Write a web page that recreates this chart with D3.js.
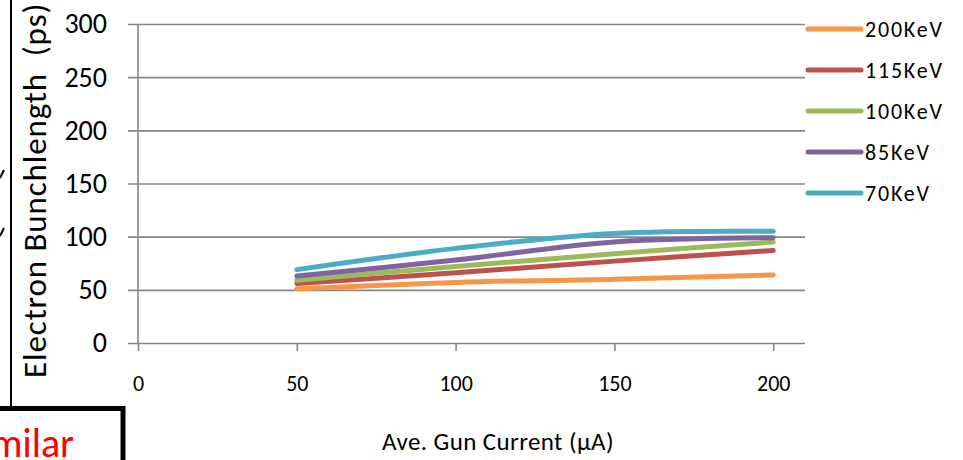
<!DOCTYPE html>
<html>
<head>
<meta charset="utf-8">
<script src="https://cdn.jsdelivr.net/npm/d3@7"></script>
<style>
    body { margin: 0; background: #fff; }
    svg { display: block; font-family: Carlito, Lato, "Open Sans", sans-serif; }
</style>
</head>
<body>
<svg width="963" height="460"></svg>
<script>
    // Values
    const currents = [50, 100, 150, 200];
    const seriesNames = ["200KeV", "115KeV", "100KeV", "85KeV", "70KeV"];
    const seriesColors = ["#F79646", "#C0504D", "#9BBB59", "#8064A2", "#4BACC6"];
    const kev200 = [51, 57, 60, 64];
    const kev115 = [56, 66, 77, 87];
    const kev100 = [59, 72, 84, 95];
    const kev85 = [63, 78, 95, 99];
    const kev70 = [69, 89, 103, 105];
    const xTicks = [0, 50, 100, 150, 200];
    const yTicks = [0, 50, 100, 150, 200, 250, 300];

    const seriesValues = [kev200, kev115, kev100, kev85, kev70];

    const svg = d3.select("svg");

    const x = d3.scaleLinear().domain([0, 210]).range([138, 805]);
    const y = d3.scaleLinear().domain([0, 300]).range([343, 24]);

    // Horizontal gridlines (with the y tick marks sticking out left)
    svg.append("g")
        .attr("transform", "translate(805,0)")
        .call(d3.axisLeft(y).tickValues(yTicks).tickSize(677).tickFormat(""))
        .call(g => g.select(".domain").remove())
        .call(g => g.selectAll("line").attr("stroke", "#878787").attr("stroke-width", 1.6));

    // y axis line
    svg.append("line")
        .attr("x1", 138).attr("x2", 138)
        .attr("y1", y(300)).attr("y2", y(0))
        .attr("stroke", "#878787").attr("stroke-width", 1.6);

    // y tick labels
    svg.append("g")
        .attr("transform", "translate(138,0)")
        .call(d3.axisLeft(y).tickValues(yTicks).tickSize(0).tickPadding(31))
        .call(g => g.select(".domain").remove())
        .call(g => g.selectAll("text")
            .attr("font-size", 28)
            .attr("font-family", "Carlito, Lato, sans-serif")
            .attr("fill", "#000"));

    // x axis
    svg.append("g")
        .attr("transform", "translate(0," + y(0) + ")")
        .call(d3.axisBottom(x).tickValues(xTicks).tickSize(8).tickPadding(24))
        .call(g => g.select(".domain").remove())
        .call(g => g.selectAll("line").attr("stroke", "#878787").attr("stroke-width", 1.6))
        .call(g => g.selectAll("text")
            .attr("font-size", 22)
            .attr("font-family", "Carlito, Lato, sans-serif")
            .attr("fill", "#000"));

    // series lines
    const line = d3.line()
        .x((d, i) => x(currents[i]))
        .y(d => y(d))
        .curve(d3.curveCatmullRom.alpha(0.5));

    svg.append("g")
        .selectAll("path")
        .data(seriesValues)
        .join("path")
        .attr("d", line)
        .attr("fill", "none")
        .attr("stroke", (d, i) => seriesColors[i])
        .attr("stroke-width", 5)
        .attr("stroke-linecap", "round")
        .attr("stroke-linejoin", "round");

    // legend
    const legend = svg.append("g")
        .selectAll("g")
        .data(seriesNames)
        .join("g")
        .attr("transform", (d, i) => "translate(0," + (29 + i * 41) + ")");

    legend.append("line")
        .attr("x1", 808).attr("x2", 861)
        .attr("stroke", (d, i) => seriesColors[i])
        .attr("stroke-width", 5)
        .attr("stroke-linecap", "round");

    legend.append("text")
        .attr("x", 865)
        .attr("dy", "0.36em")
        .attr("font-size", 22)
        .attr("letter-spacing", 1.8)
        .text(d => d);

    // axis titles
    svg.append("text")
        .attr("x", 498)
        .attr("y", 450)
        .attr("text-anchor", "middle")
        .attr("font-size", 25)
        .attr("letter-spacing", 0.4)
        .text("Ave. Gun Current (\u03BCA)");

    svg.append("text")
        .attr("transform", "translate(46,378) rotate(-90)")
        .attr("font-size", 33)
        .attr("letter-spacing", 0.9)
        .style("white-space", "pre")
        .text("Electron Bunchlength  (ps)");

    // slide pieces at the left edge
    svg.append("line")
        .attr("x1", 11).attr("x2", 11)
        .attr("y1", 0).attr("y2", 407)
        .attr("stroke", "#000").attr("stroke-width", 2);

    svg.append("path")
        .attr("d", "M0,178 L4,170 M0,236 L4,228")
        .attr("stroke", "#000").attr("stroke-width", 2);

    svg.append("rect")
        .attr("x", -10).attr("y", 408.5)
        .attr("width", 133).attr("height", 100)
        .attr("fill", "#fff")
        .attr("stroke", "#000").attr("stroke-width", 5);

    svg.append("text")
        .attr("x", 74)
        .attr("y", 457)
        .attr("text-anchor", "end")
        .attr("font-size", 40)
        .attr("fill", "#FF0000")
        .text("Similar");
</script>
</body>
</html>
